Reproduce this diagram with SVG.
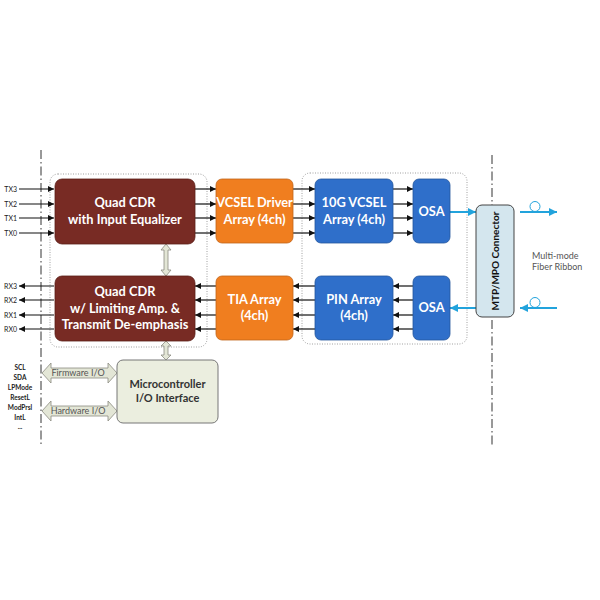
<svg xmlns="http://www.w3.org/2000/svg" width="600" height="600" viewBox="0 0 600 600">
<defs>
<style>
.blk{font-family:Lato,"Liberation Sans",sans-serif;font-weight:bold;font-size:12.8px;fill:#ffffff;text-anchor:middle}
.sm{font-family:Lato,"Liberation Sans",sans-serif;font-weight:bold;font-size:6.5px;fill:#222;text-anchor:middle}
.lbl{font-family:Lato,"Liberation Sans",sans-serif;font-size:7px;fill:#222;text-anchor:end}
.gray{font-family:Lato,"Liberation Sans",sans-serif;font-size:9px;fill:#555}
.mc{font-family:Lato,"Liberation Sans",sans-serif;font-weight:bold;font-size:11px;fill:#333;text-anchor:middle}
.sig{stroke:#111;stroke-width:1.2;fill:none}
.fib{stroke:#22a3dc;stroke-width:2;fill:none}
.dd{stroke:#333;stroke-width:1;stroke-dasharray:9 3 1.5 3;fill:none}
.dot{stroke:#888;stroke-width:0.8;stroke-dasharray:1 1.5;fill:none}
.ga{fill:#e3e6d6;stroke:#8a8a80;stroke-width:0.8}
</style>
<marker id="ah" viewBox="0 0 10 10" refX="10" refY="5" markerWidth="5" markerHeight="5" orient="auto"><path d="M0,0 L10,5 L0,10 z" fill="#111"/></marker>
<marker id="ahb" viewBox="0 0 10 10" refX="10" refY="5" markerWidth="4" markerHeight="4" orient="auto"><path d="M0,0 L10,5 L0,10 z" fill="#22a3dc"/></marker>
</defs>
<rect width="600" height="600" fill="#ffffff"/>

<g id="boundaries">
<line class="dd" x1="41" y1="150" x2="41" y2="446"/>
<line class="dd" x1="492" y1="155" x2="492" y2="446"/>
<rect class="dot" x="50" y="174" width="157" height="173" rx="8"/>
<rect class="dot" x="302" y="173" width="165" height="171" rx="8"/>
</g>

<g id="connectors">
<line class="sig" x1="19" y1="189" x2="54" y2="189" marker-end="url(#ah)"/>
<line class="sig" x1="19" y1="204" x2="54" y2="204" marker-end="url(#ah)"/>
<line class="sig" x1="19" y1="218" x2="54" y2="218" marker-end="url(#ah)"/>
<line class="sig" x1="19" y1="233" x2="54" y2="233" marker-end="url(#ah)"/>
<line class="sig" x1="54" y1="286" x2="19" y2="286" marker-end="url(#ah)"/>
<line class="sig" x1="54" y1="300" x2="19" y2="300" marker-end="url(#ah)"/>
<line class="sig" x1="54" y1="315" x2="19" y2="315" marker-end="url(#ah)"/>
<line class="sig" x1="54" y1="329" x2="19" y2="329" marker-end="url(#ah)"/>
<line class="sig" x1="195" y1="189" x2="216" y2="189" marker-end="url(#ah)"/>
<line class="sig" x1="195" y1="204" x2="216" y2="204" marker-end="url(#ah)"/>
<line class="sig" x1="195" y1="218" x2="216" y2="218" marker-end="url(#ah)"/>
<line class="sig" x1="195" y1="233" x2="216" y2="233" marker-end="url(#ah)"/>
<line class="sig" x1="293" y1="189" x2="315" y2="189" marker-end="url(#ah)"/>
<line class="sig" x1="293" y1="204" x2="315" y2="204" marker-end="url(#ah)"/>
<line class="sig" x1="293" y1="218" x2="315" y2="218" marker-end="url(#ah)"/>
<line class="sig" x1="293" y1="233" x2="315" y2="233" marker-end="url(#ah)"/>
<line class="sig" x1="393" y1="189" x2="413" y2="189" marker-end="url(#ah)"/>
<line class="sig" x1="393" y1="204" x2="413" y2="204" marker-end="url(#ah)"/>
<line class="sig" x1="393" y1="218" x2="413" y2="218" marker-end="url(#ah)"/>
<line class="sig" x1="393" y1="233" x2="413" y2="233" marker-end="url(#ah)"/>
<line class="sig" x1="216" y1="286" x2="195" y2="286" marker-end="url(#ah)"/>
<line class="sig" x1="216" y1="300" x2="195" y2="300" marker-end="url(#ah)"/>
<line class="sig" x1="216" y1="315" x2="195" y2="315" marker-end="url(#ah)"/>
<line class="sig" x1="216" y1="329" x2="195" y2="329" marker-end="url(#ah)"/>
<line class="sig" x1="315" y1="286" x2="293" y2="286" marker-end="url(#ah)"/>
<line class="sig" x1="315" y1="300" x2="293" y2="300" marker-end="url(#ah)"/>
<line class="sig" x1="315" y1="315" x2="293" y2="315" marker-end="url(#ah)"/>
<line class="sig" x1="315" y1="329" x2="293" y2="329" marker-end="url(#ah)"/>
<line class="sig" x1="413" y1="286" x2="393" y2="286" marker-end="url(#ah)"/>
<line class="sig" x1="413" y1="300" x2="393" y2="300" marker-end="url(#ah)"/>
<line class="sig" x1="413" y1="315" x2="393" y2="315" marker-end="url(#ah)"/>
<line class="sig" x1="413" y1="329" x2="393" y2="329" marker-end="url(#ah)"/>
<line class="fib" x1="450" y1="212" x2="476" y2="212" marker-end="url(#ahb)"/>
<line class="fib" x1="476" y1="308" x2="450" y2="308" marker-end="url(#ahb)"/>
<line class="fib" x1="520" y1="212" x2="557" y2="212" marker-end="url(#ahb)"/>
<circle cx="535" cy="206.5" r="5" fill="none" stroke="#22a3dc" stroke-width="1"/>
<line class="fib" x1="557" y1="308" x2="520" y2="308" marker-end="url(#ahb)"/>
<circle cx="535" cy="302.5" r="5" fill="none" stroke="#22a3dc" stroke-width="1"/>
<path class="ga" d="M166,244 L171,250 L168,250 L168,270 L171,270 L166,276 L161,270 L164,270 L164,250 L161,250 Z"/>
<path class="ga" d="M166,341 L171,346 L168,346 L168,355 L171,355 L166,360 L161,355 L164,355 L164,346 L161,346 Z"/>
<g id="fw-io">
<path class="ga" d="M42,373 L51,363 L51,368 L108,368 L108,363 L117,373 L108,383 L108,378 L51,378 L51,383 Z"/>
<text class="gray" x="78" y="376" text-anchor="middle">Firmware I/O</text>
</g>
<g id="hw-io">
<path class="ga" d="M42,411 L51,401 L51,406 L108,406 L108,401 L117,411 L108,421 L108,416 L51,416 L51,421 Z"/>
<text class="gray" x="78" y="414" text-anchor="middle">Hardware I/O</text>
</g>
</g>

<g id="labels-left">
<text class="lbl" x="17" y="191.5">TX3</text>
<text class="lbl" x="17" y="206.5">TX2</text>
<text class="lbl" x="17" y="220.5">TX1</text>
<text class="lbl" x="17" y="235.5">TX0</text>
<text class="lbl" x="17" y="288.5">RX3</text>
<text class="lbl" x="17" y="302.5">RX2</text>
<text class="lbl" x="17" y="317.5">RX1</text>
<text class="lbl" x="17" y="331.5">RX0</text>
<text class="sm" x="20" y="370">SCL</text>
<text class="sm" x="20" y="380">SDA</text>
<text class="sm" x="20" y="390">LPMode</text>
<text class="sm" x="20" y="400">ResetL</text>
<text class="sm" x="20" y="410">ModPrsl</text>
<text class="sm" x="20" y="420">IntL</text>
<text class="sm" x="20" y="429">...</text>
</g>

<g id="cdr-tx">
<rect x="55" y="179" width="140" height="65" rx="7" fill="#782b24" stroke="#5a1e18" stroke-width="0.8"/>
<text class="blk" x="125" y="207">Quad CDR</text>
<text class="blk" x="125" y="224">with Input Equalizer</text>
</g>
<g id="cdr-rx">
<rect x="55" y="276" width="140" height="65" rx="7" fill="#782b24" stroke="#5a1e18" stroke-width="0.8"/>
<text class="blk" x="125" y="296">Quad CDR</text>
<text class="blk" x="125" y="312.5">w/ Limiting Amp. &amp;</text>
<text class="blk" x="125" y="329">Transmit De-emphasis</text>
</g>
<g id="vcsel-driver">
<rect x="216" y="179" width="77" height="64" rx="6" fill="#f07e1f" stroke="#c0641a" stroke-width="0.8"/>
<text class="blk" x="254.5" y="207">VCSEL Driver</text>
<text class="blk" x="254.5" y="224">Array (4ch)</text>
</g>
<g id="tia">
<rect x="216" y="276" width="77" height="64" rx="6" fill="#f07e1f" stroke="#c0641a" stroke-width="0.8"/>
<text class="blk" x="254.5" y="304">TIA Array</text>
<text class="blk" x="254.5" y="320">(4ch)</text>
</g>
<g id="vcsel">
<rect x="315" y="179" width="78" height="64" rx="6" fill="#2f6fca" stroke="#23559c" stroke-width="0.8"/>
<text class="blk" x="354" y="207">10G VCSEL</text>
<text class="blk" x="354" y="224">Array (4ch)</text>
</g>
<g id="pin">
<rect x="315" y="276" width="78" height="64" rx="6" fill="#2f6fca" stroke="#23559c" stroke-width="0.8"/>
<text class="blk" x="354" y="304">PIN Array</text>
<text class="blk" x="354" y="320">(4ch)</text>
</g>
<g id="osa-tx">
<rect x="413" y="179" width="37" height="64" rx="6" fill="#2f6fca" stroke="#23559c" stroke-width="0.8"/>
<text class="blk" x="431.5" y="216">OSA</text>
</g>
<g id="osa-rx">
<rect x="413" y="276" width="37" height="64" rx="6" fill="#2f6fca" stroke="#23559c" stroke-width="0.8"/>
<text class="blk" x="431.5" y="312">OSA</text>
</g>
<g id="mtp">
<rect x="476" y="205" width="38" height="112" rx="6" fill="#d4e6ee" stroke="#444" stroke-width="1"/>
<text x="499" y="261" transform="rotate(-90 499 261)" style="font-family:Lato,'Liberation Sans',sans-serif;font-weight:bold;font-size:10px;fill:#111;text-anchor:middle">MTP/MPO Connector</text>
</g>
<g id="fiber-label">
<text class="gray" x="532" y="259">Multi-mode</text>
<text class="gray" x="532" y="270">Fiber Ribbon</text>
</g>
<g id="micro">
<rect x="117" y="360" width="101" height="63" rx="6" fill="#ebeedf" stroke="#777" stroke-width="1"/>
<text class="mc" x="167.5" y="388">Microcontroller</text>
<text class="mc" x="167.5" y="402">I/O Interface</text>
</g>
</svg>
